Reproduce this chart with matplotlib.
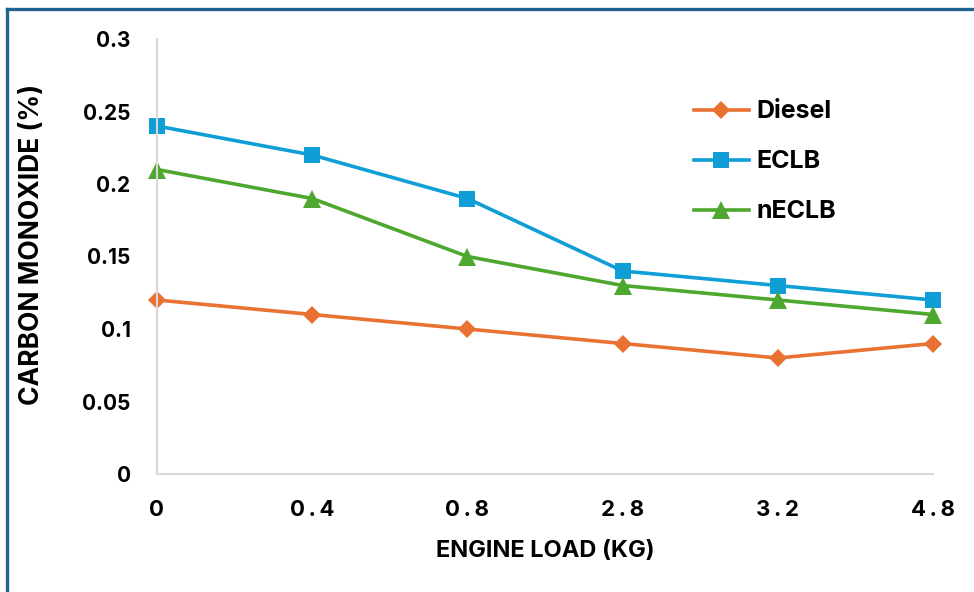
import matplotlib
matplotlib.use("Agg")
import matplotlib.pyplot as plt
from matplotlib.lines import Line2D

# engine load categories (kg) and CO readings (%)
loads = ["0", "0.4", "0.8", "2.8", "3.2", "4.8"]
diesel = [0.12, 0.11, 0.10, 0.09, 0.08, 0.09]
eclb = [0.24, 0.22, 0.19, 0.14, 0.13, 0.12]
neclb = [0.21, 0.19, 0.15, 0.13, 0.12, 0.11]

FONT = ["Inter", "DejaVu Sans"]
plt.rcParams["font.family"] = FONT

fig = plt.figure(figsize=(9.74, 5.92), dpi=100)
ax = fig.add_axes([157 / 974, 118 / 592, (933 - 157) / 974, (474 - 39) / 592])

x = list(range(len(loads)))
ax.plot(x, diesel, color="#E97132", lw=2.6, marker="D", markersize=9, markeredgewidth=0,
        label="Diesel", clip_on=False)
ax.plot(x, eclb, color="#0F9ED5", lw=2.6, marker="s", markersize=12, markeredgewidth=0,
        label="ECLB", clip_on=False)
ax.plot(x, neclb, color="#4EA72E", lw=2.6, marker="^", markersize=13, markeredgewidth=0,
        label="nECLB", clip_on=False)

ax.set_xlim(0, len(loads) - 1)
ax.set_ylim(0, 0.3)
ax.set_yticks([0, 0.05, 0.1, 0.15, 0.2, 0.25, 0.3])
ax.set_yticklabels(["0", "0.05", "0.1", "0.15", "0.2", "0.25", "0.3"])
ax.set_xticks(x)
ax.set_xticklabels(["\u2009".join(s) if "." in s else s for s in loads])
ax.tick_params(length=0, pad=0)
ax.tick_params(axis="y", pad=19, labelsize=15)
ax.tick_params(axis="x", pad=19, labelsize=16)
for lab in ax.get_xticklabels() + ax.get_yticklabels():
    lab.set_fontweight("bold")

for side in ("top", "right"):
    ax.spines[side].set_visible(False)
for side in ("left", "bottom"):
    ax.spines[side].set_color("#D9D9D9")
    ax.spines[side].set_linewidth(1.5)

fig.text(545 / 974, 1 - 551 / 592, "ENGINE LOAD (KG)", ha="center", va="center",
         fontsize=17, fontweight="bold")
fig.text(32 / 974, 1 - 244 / 592, "CARBON MONOXIDE (%)", ha="center", va="center",
         rotation=90, fontsize=19, fontweight="bold")

ax.legend(loc="upper left", bbox_to_anchor=((671 - 157) / 776, (474 - 78) / 435),
          frameon=False, prop={"weight": "bold", "size": 18},
          handlelength=2.2, labelspacing=1.08, handletextpad=0.3)

# partial frame around the picture (top and left edges only visible)
fig.add_artist(Line2D([7 / 974, 1], [1 - 9 / 592, 1 - 9 / 592], color="#1F6391", lw=2.4,
                      transform=fig.transFigure))
fig.add_artist(Line2D([7 / 974, 7 / 974], [0, 1 - 9 / 592], color="#1F6391", lw=2.4,
                      transform=fig.transFigure))

fig.savefig("out.png", dpi=100)
